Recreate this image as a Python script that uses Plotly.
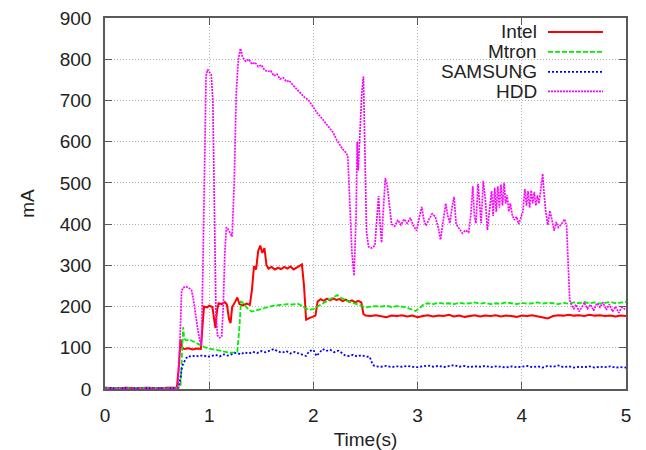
import plotly.graph_objects as go

# ---------------- data ----------------
intel_t = [0.00, 0.10, 0.20, 0.30, 0.40, 0.50, 0.60, 0.69, 0.71, 0.725, 0.74, 0.76, 0.80, 0.84, 0.88, 0.92,
           0.935, 0.95, 0.98, 1.00, 1.03, 1.045, 1.06, 1.075, 1.09, 1.12, 1.15, 1.17, 1.19, 1.205, 1.22, 1.25,
           1.27, 1.29, 1.32, 1.36, 1.39, 1.41, 1.43, 1.45, 1.47, 1.49, 1.51, 1.53, 1.55, 1.57, 1.60, 1.63, 1.66,
           1.69, 1.72, 1.75, 1.78, 1.81, 1.84, 1.87, 1.89, 1.91, 1.93, 1.96, 1.99, 2.02, 2.04, 2.07, 2.10, 2.13,
           2.16, 2.19, 2.22, 2.25, 2.28, 2.31, 2.34, 2.37, 2.40, 2.43, 2.46, 2.48, 2.50, 2.55, 2.60, 2.65, 2.70,
           2.75, 2.80, 2.85, 2.90, 2.95, 3.00, 3.05, 3.10, 3.15, 3.20, 3.25, 3.30, 3.35, 3.40, 3.45, 3.50, 3.55,
           3.60, 3.65, 3.70, 3.75, 3.80, 3.85, 3.90, 3.95, 4.00, 4.05, 4.10, 4.15, 4.20, 4.25, 4.30, 4.35, 4.40,
           4.45, 4.50, 4.55, 4.60, 4.65, 4.70, 4.75, 4.80, 4.85, 4.90, 4.95, 5.00]
intel_v = [3, 2, 3, 2, 3, 2, 3, 3, 60, 120, 100, 97, 99, 96, 98, 97,
           150, 200, 198, 202, 199, 170, 148, 190, 208, 206, 211, 205, 170, 160, 198, 212,
           222, 206, 203, 207, 204, 240, 298, 290, 335, 348, 330, 342, 300, 292, 296, 290, 294,
           291, 296, 292, 297, 290, 295, 299, 302, 250, 168, 172, 175, 178, 212, 218, 214, 219,
           215, 220, 216, 218, 213, 217, 212, 215, 210, 214, 210, 182, 178, 177, 179, 176, 174,
           178, 177, 179, 176, 178, 174, 177, 179, 176, 178, 177, 180, 176, 178, 175, 177, 179,
           176, 178, 177, 179, 176, 178, 177, 175, 178, 177, 179, 176, 174, 171, 177, 179, 178,
           180, 178, 179, 177, 180, 178, 179, 177, 178, 176, 178, 177]

mtron_t = [0.00, 0.10, 0.20, 0.30, 0.40, 0.50, 0.60, 0.70, 0.725, 0.74, 0.75, 0.76, 0.78, 0.81, 0.84, 0.87,
           0.90, 0.93, 0.96, 1.00, 1.04, 1.08, 1.12, 1.16, 1.20, 1.24, 1.27, 1.29, 1.305, 1.32, 1.35, 1.38,
           1.41, 1.44, 1.48, 1.52, 1.56, 1.60, 1.65, 1.70, 1.75, 1.80, 1.85, 1.88, 1.92, 1.96, 2.00, 2.04,
           2.08, 2.12, 2.16, 2.20, 2.23, 2.26, 2.30, 2.34, 2.38, 2.42, 2.46, 2.50, 2.55, 2.60, 2.65, 2.70,
           2.75, 2.80, 2.85, 2.90, 2.95, 2.98, 3.02, 3.06, 3.10, 3.15, 3.20, 3.25, 3.30, 3.35, 3.40, 3.45,
           3.50, 3.55, 3.60, 3.65, 3.70, 3.75, 3.80, 3.85, 3.90, 3.95, 4.00, 4.05, 4.10, 4.15, 4.20, 4.25,
           4.30, 4.35, 4.40, 4.45, 4.50, 4.55, 4.60, 4.65, 4.70, 4.75, 4.80, 4.85, 4.90, 4.95, 5.00]
mtron_v = [3, 2, 3, 2, 3, 2, 3, 3, 5, 80, 150, 122, 118, 120, 116, 112,
           108, 104, 101, 98, 96, 94, 92, 90, 88, 89, 91, 150, 212, 210, 200, 192,
           188, 190, 194, 196, 199, 201, 203, 204, 206, 205, 207, 203, 196, 192, 194, 200,
           206, 213, 218, 224, 228, 222, 216, 212, 209, 206, 202, 198, 199, 201, 200, 202,
           199, 201, 200, 197, 192, 189, 196, 206, 208, 206, 209, 207, 208, 206, 209, 207,
           208, 210, 207, 209, 206, 208, 207, 210, 208, 206, 209, 207, 208, 210, 207, 209,
           208, 206, 209, 207, 210, 208, 211, 208, 210, 207, 209, 211, 208, 210, 211]

samsung_t = [0.00, 0.10, 0.20, 0.30, 0.40, 0.50, 0.60, 0.70, 0.72, 0.74, 0.76, 0.78, 0.80, 0.83, 0.86, 0.90,
             0.94, 0.98, 1.02, 1.06, 1.10, 1.14, 1.18, 1.22, 1.26, 1.30, 1.34, 1.38, 1.42, 1.46, 1.50, 1.54,
             1.58, 1.62, 1.66, 1.70, 1.74, 1.78, 1.82, 1.86, 1.90, 1.93, 1.96, 2.00, 2.03, 2.06, 2.09, 2.12,
             2.16, 2.20, 2.24, 2.27, 2.30, 2.34, 2.38, 2.42, 2.46, 2.50, 2.54, 2.57, 2.60, 2.65, 2.70, 2.75,
             2.80, 2.85, 2.90, 2.95, 3.00, 3.05, 3.10, 3.15, 3.20, 3.25, 3.30, 3.35, 3.40, 3.45, 3.50, 3.55,
             3.60, 3.65, 3.70, 3.75, 3.80, 3.85, 3.90, 3.95, 4.00, 4.05, 4.10, 4.15, 4.20, 4.25, 4.30, 4.35,
             4.40, 4.45, 4.50, 4.55, 4.60, 4.65, 4.70, 4.75, 4.80, 4.85, 4.90, 4.95, 5.00]
samsung_v = [2, 1, 2, 1, 2, 1, 2, 2, 20, 55, 66, 75, 80, 78, 81, 79,
             82, 78, 80, 83, 79, 84, 81, 85, 88, 84, 89, 86, 90, 87, 92, 89,
             94, 97, 91, 88, 92, 86, 90, 87, 84, 80, 92, 95, 80, 88, 97, 92,
             95, 89, 93, 88, 82, 80, 83, 79, 82, 79, 78, 58, 55, 54, 56, 53,
             55, 54, 56, 54, 53, 55, 57, 54, 56, 53, 55, 58, 54, 56, 53, 55,
             54, 56, 53, 55, 54, 52, 55, 53, 54, 56, 53, 55, 52, 56, 54, 57,
             53, 55, 52, 54, 53, 55, 52, 54, 53, 55, 52, 53, 52]

hdd_t = [0.00, 0.10, 0.20, 0.30, 0.40, 0.50, 0.60, 0.70, 0.72, 0.735, 0.75, 0.78, 0.81, 0.83, 0.85, 0.87,
         0.89, 0.91, 0.925, 0.94, 0.955, 0.97, 0.985, 1.00, 1.02, 1.035, 1.05, 1.065, 1.08, 1.10, 1.12, 1.135,
         1.15, 1.165, 1.18, 1.20, 1.22, 1.24, 1.26, 1.28, 1.30, 1.32, 1.35, 1.38, 1.41, 1.44, 1.47, 1.50,
         1.53, 1.56, 1.59, 1.62, 1.65, 1.68, 1.71, 1.74, 1.77, 1.80, 1.83, 1.86, 1.89, 1.92, 1.95, 1.98,
         2.01, 2.04, 2.07, 2.10, 2.13, 2.16, 2.19, 2.22, 2.25, 2.28, 2.31, 2.33, 2.35, 2.37, 2.39, 2.41,
         2.42, 2.43, 2.45, 2.465, 2.48, 2.495, 2.51, 2.53, 2.56, 2.59, 2.61, 2.625, 2.64, 2.655, 2.67, 2.69,
         2.71, 2.73, 2.75, 2.78, 2.81, 2.84, 2.87, 2.90, 2.93, 2.96, 2.99, 3.02, 3.04, 3.06, 3.08, 3.11,
         3.14, 3.17, 3.20, 3.22, 3.25, 3.27, 3.29, 3.31, 3.33, 3.35, 3.37, 3.40, 3.43, 3.46, 3.49, 3.51,
         3.53, 3.545, 3.56, 3.58, 3.595, 3.61, 3.63, 3.65, 3.67, 3.69, 3.71, 3.725, 3.74, 3.755, 3.77, 3.785,
         3.80, 3.815, 3.83, 3.845, 3.86, 3.875, 3.89, 3.91, 3.93, 3.95, 3.97, 3.99, 4.01, 4.03, 4.045, 4.06,
         4.075, 4.09, 4.105, 4.12, 4.135, 4.15, 4.165, 4.18, 4.20, 4.215, 4.23, 4.25, 4.27, 4.29, 4.31, 4.33,
         4.35, 4.38, 4.41, 4.43, 4.445, 4.46, 4.48, 4.50, 4.52, 4.55, 4.58, 4.60, 4.63, 4.66, 4.69, 4.72,
         4.75, 4.78, 4.81, 4.84, 4.87, 4.90, 4.93, 4.96, 5.00]
hdd_v = [2, 1, 2, 1, 2, 1, 2, 2, 120, 238, 246, 248, 244, 240, 215, 175,
         145, 118, 105, 300, 600, 760, 775, 768, 762, 700, 400, 180, 130, 124, 128, 200,
         330, 392, 388, 378, 370, 500, 720, 800, 826, 805, 795, 800, 788, 792, 782, 786,
         774, 770, 772, 760, 764, 752, 755, 746, 748, 738, 730, 722, 716, 706, 702, 690,
         678, 668, 660, 650, 640, 630, 622, 606, 594, 582, 574, 565, 450, 330, 275, 420,
         600, 530, 640, 720, 758, 600, 380, 345, 342, 348, 420, 468, 400, 355, 430, 512,
         490, 440, 400, 395, 410, 398, 412, 402, 415, 396, 384, 420, 442, 410, 396, 412,
         425, 418, 390, 362, 420, 450, 420, 402, 440, 466, 400, 388, 378, 385, 380, 420,
         492, 420, 402, 498, 440, 402, 505, 460, 386, 430, 480, 420, 488, 430, 492, 440,
         496, 445, 500, 450, 470, 430, 450, 420, 410, 418, 400, 415, 430, 485, 445, 480,
         440, 482, 450, 478, 445, 470, 450, 480, 522, 470, 430, 398, 432, 410, 384, 405,
         392, 400, 412, 395, 300, 215, 202, 195, 205, 188, 200, 210, 195, 205, 190, 208,
         198, 210, 192, 206, 188, 200, 185, 198, 192]

series_names = ["Intel", "Mtron", "SAMSUNG", "HDD"]
x_ticks = [0, 1, 2, 3, 4, 5]
y_ticks = [0, 100, 200, 300, 400, 500, 600, 700, 800, 900]

# ---------------- styling ----------------
FONT = "Liberation Sans, Arial, Helvetica, sans-serif"
colors = ["#ff0000", "#00ee00", "#0000ff", "#ff00ff"]
dashes = ["solid", "5px,2px", "2px,2px", "2px,1px"]
widths = [2.0, 1.8, 1.8, 1.7]
data = [(intel_t, intel_v), (mtron_t, mtron_v), (samsung_t, samsung_v), (hdd_t, hdd_v)]

fig = go.Figure()
for name, (t, v), c, d, w in zip(series_names, data, colors, dashes, widths):
    fig.add_trace(go.Scatter(x=t, y=v, mode="lines", name=name,
                             line=dict(color=c, dash=d, width=w), showlegend=False))

axis_common = dict(showline=True, linecolor="#5a5a5a", linewidth=1.5, mirror="allticks",
                   ticks="inside", ticklen=7, tickwidth=1.2, tickcolor="#5a5a5a",
                   showgrid=True, gridcolor="#b0b0b0", griddash="1px,2px", gridwidth=1,
                   zeroline=False, automargin=False,
                   tickfont=dict(family=FONT, size=19, color="#222222"))

fig.update_xaxes(range=[0, 5], tickvals=x_ticks, ticktext=[str(v) for v in x_ticks],
                 title=dict(text="Time(s)", font=dict(family=FONT, size=19, color="#222222"), standoff=12),
                 ticklabelstandoff=8, **axis_common)
fig.update_yaxes(range=[0, 900], tickvals=y_ticks, ticktext=[str(v) for v in y_ticks],
                 title=dict(text="mA", font=dict(family=FONT, size=19, color="#222222"), standoff=20),
                 ticklabelstandoff=8, **axis_common)

# legend (text right-aligned, sample on the right, gnuplot-style)
L, R, T, B = 105, 626, 17.5, 389.5
def px(x):
    return (x - L) / (R - L)
def py(y):
    return (B - y) / (B - T)

shapes = [dict(type="rect", xref="paper", yref="paper", x0=px(450), x1=px(614), y0=py(101), y1=py(21),
               fillcolor="white", line=dict(width=0), layer="between")]
annotations = []
leg_y = [31.5, 51.5, 71.5, 91]
for name, c, d, w, yy in zip(series_names, colors, dashes, widths, leg_y):
    annotations.append(dict(xref="paper", yref="paper", x=px(538), y=py(yy), text=name, showarrow=False,
                            xanchor="right", yanchor="middle", height=19, borderpad=0,
                            font=dict(family=FONT, size=19, color="#222222")))
    shapes.append(dict(type="line", xref="paper", yref="paper", x0=px(548), x1=px(603), y0=py(yy), y1=py(yy),
                       line=dict(color=c, dash=d, width=w)))

fig.update_layout(width=646, height=450, margin=dict(l=L, r=646 - R, t=T, b=450 - B),
                  paper_bgcolor="white", plot_bgcolor="white",
                  shapes=shapes, annotations=annotations, showlegend=False)

fig.write_html("out.html")
